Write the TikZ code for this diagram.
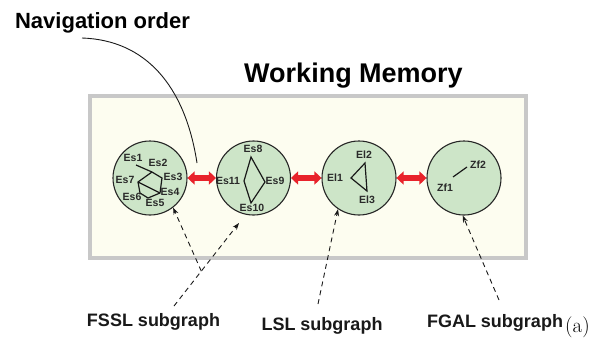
\documentclass[tikz,border=0pt]{standalone}
\usepackage{fontspec}
\newfontfamily\hv{Liberation Sans}
\usetikzlibrary{arrows.meta,calc}
\definecolor{memfill}{HTML}{FDFDF0}
\definecolor{memframe}{HTML}{C8C8C8}
\definecolor{nodefill}{HTML}{CDE5C8}
\definecolor{linkred}{HTML}{E8232B}
\definecolor{labelgray}{HTML}{2A2A2A}
\begin{document}
\begin{tikzpicture}[x=1pt,y=-1pt,
  subgraph/.style={circle,draw=black!85,line width=1.1pt,fill=nodefill,minimum size=74pt,inner sep=0pt},
  vlabel/.style={font=\hv\bfseries\fontsize{10.5}{12}\selectfont,text=labelgray,inner sep=0pt},
  gedge/.style={line width=1.2pt,black!90},
  link/.style={draw=linkred,line width=5.5pt,{Triangle[length=7pt,width=13pt]}-{Triangle[length=7pt,width=13pt]}},
  pointer/.style={draw=black!90,line width=0.9pt,dash pattern=on 5pt off 4pt,-{Stealth[length=7pt,width=5pt]}},
  caption/.style={font=\hv\bfseries\fontsize{18}{20}\selectfont,text=black!90,inner sep=0pt,anchor=base},
]
\useasboundingbox (0,0) rectangle (592,338);
\fill[white] (0,0) rectangle (592,338);

% titles
\node[font=\hv\bfseries\fontsize{22}{24}\selectfont,inner sep=0pt,anchor=base] (navtitle) at (102.5,28) {Navigation order};
\node[font=\hv\bfseries\fontsize{27}{30}\selectfont,inner sep=0pt,anchor=base] (wmtitle) at (353.5,82) {Working Memory};

% working memory frame
\draw[memframe,line width=4.5pt,fill=memfill] (90,96) rectangle (526,258);

% the four subgraphs
\node[subgraph] (c1) at (150,178) {};
\node[subgraph] (c2) at (253.5,178) {};
\node[subgraph] (c3) at (359,178) {};
\node[subgraph] (c4) at (464,178) {};

% FSSL subgraph
\coordinate (v1) at (136,165);
\coordinate (v2) at (152,172);
\coordinate (v3) at (162,178);
\coordinate (v4) at (160,193);
\coordinate (v5) at (148,198);
\coordinate (v6) at (140,193);
\coordinate (v7) at (138,182);
\draw[gedge] (v1) -- (v2) -- (v3) -- (v4) -- (v5) -- (v6) -- (v7) -- (v2);
\draw[gedge] (v7) -- (v4);
\node[vlabel] (es1) at (133,158) {Es1};
\node[vlabel] (es2) at (158,163) {Es2};
\node[vlabel] (es3) at (173,177) {Es3};
\node[vlabel] (es7) at (125,180) {Es7};
\node[vlabel] (es4) at (170,192) {Es4};
\node[vlabel] (es6) at (132,197) {Es6};
\node[vlabel] (es5) at (155,203) {Es5};

% second subgraph
\coordinate (d1) at (251,157);
\coordinate (d2) at (265,182);
\coordinate (d3) at (251,203);
\coordinate (d4) at (244,181);
\draw[gedge] (d1) -- (d2) -- (d3) -- (d4) -- cycle;
\node[vlabel] (es8) at (253,149) {Es8};
\node[vlabel] (es11) at (228,181) {Es11};
\node[vlabel] (es9) at (275,181) {Es9};
\node[vlabel] (es10) at (252,208) {Es10};

% LSL subgraph
\coordinate (t1) at (365,163);
\coordinate (t2) at (367,191);
\coordinate (t3) at (351,178);
\draw[gedge] (t1) -- (t2) -- (t3) -- cycle;
\node[vlabel] (el2) at (364,155) {El2};
\node[vlabel] (el1) at (335,178) {El1};
\node[vlabel] (el3) at (367,200) {El3};

% FGAL subgraph
\coordinate (z1) at (453,177);
\coordinate (z2) at (467,167);
\draw[gedge] (z1) -- (z2);
\node[vlabel] (zf2) at (478,165) {Zf2};
\node[vlabel] (zf1) at (445,188) {Zf1};

% links between subgraphs
\draw[link] (c1.east) -- (c2.west);
\draw[link] (c2.east) -- (c3.west);
\draw[link] (c3.east) -- (c4.west);

% navigation order pointer
\coordinate (navStart) at (82,38);
\coordinate (navEnd) at (197,163);
\draw[line width=0.9pt,black!90] (navStart) .. controls (145,40) and (185,85) .. (navEnd);

% captions
\node[caption] (fssl) at (153.5,326) {FSSL subgraph};
\node[caption] (lsl) at (322,330) {LSL subgraph};
\node[caption] (fgal) at (495,327) {FGAL subgraph};
\node[font=\fontsize{21}{24}\selectfont,inner sep=0pt,anchor=base west] (tag) at (565,332) {(a)};

% dashed pointers from captions to subgraphs
\coordinate (fsslA) at (174,306);
\coordinate (fsslB) at (239,223);
\coordinate (lslA) at (318,304);
\coordinate (fgalA) at (499,300);
\draw[pointer] (fsslA) -- (fsslB);
\draw[pointer] ($(fsslA)!0.42!(fsslB)$) -- (c1.308);
\draw[pointer] (lslA) -- (c3.236);
\draw[pointer] (fgalA) -- (c4.268);
\end{tikzpicture}
\end{document}
